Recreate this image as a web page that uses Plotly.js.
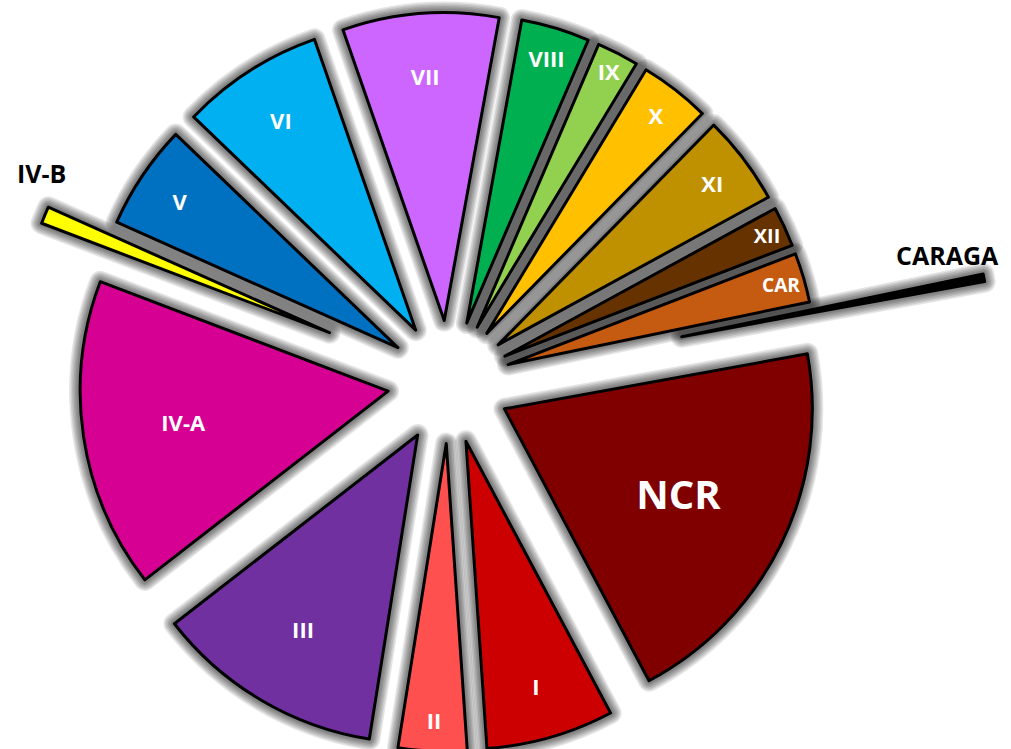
<!DOCTYPE html>
<html>
<head>
<meta charset="utf-8">
<script src="https://cdn.plot.ly/plotly-3.0.1.min.js"></script>
<style>
  html, body { margin: 0; padding: 0; width: 1011px; height: 749px; overflow: hidden; background: #fff; }
  #wrap { position: relative; width: 1011px; height: 749px; overflow: hidden; background: #fff; }
  #chart { position: absolute; left: -151px; top: -163px; }
</style>
</head>
<body>
<div id="wrap"><div id="chart"></div></div>
<script>
window.onload = function() {

// ---- Data ----
const regions = ['NCR', 'I', 'II', 'III', 'IV-A', 'IV-B', 'V', 'VI', 'VII',
                 'VIII', 'IX', 'X', 'XI', 'XII', 'CAR', 'CARAGA'];
const shares  = [20.1, 6.7, 3.6, 12.0, 16.3, 0.9, 5.5, 7.5, 8.2,
                 3.6, 2.2, 3.7, 4.7, 2.1, 2.6, 0.4];
const pulls   = [0.2, 0.2, 0.2, 0.2, 0.2, 0.42, 0.2, 0.2, 0.2,
                 0.2, 0.2, 0.2, 0.2, 0.2, 0.2, 0.77];
const colors  = ['#800000', '#CC0000', '#FF5050', '#7030A0', '#D60093', '#FFFF00',
                 '#0070C0', '#00B0F0', '#CC66FF', '#00B050', '#92D050', '#FFC000',
                 '#BF9000', '#663300', '#C55A11', '#000000'];
// slices too thin for an inside label, with where their label sits (paper coords)
const outerLabels = { 'IV-B': [0.1608, 0.6917], 'CARAGA': [0.9150, 0.6165] };

const textPos  = regions.map(r => outerLabels[r] ? 'none' : 'inside');
const textSize = regions.map(r => r === 'NCR' ? 40 : 22);

const base = {
    type: 'pie',
    labels: regions,
    values: shares,
    sort: false,
    direction: 'clockwise',
    rotation: 79.7,
    pull: pulls,
    hoverinfo: 'skip',
    showlegend: false
};

// soft shadow: the same pie drawn underneath with wide, faint outlines
const haloWidths = [22, 19, 16, 13, 10, 7];
const halo = haloWidths.map(w => Object.assign({}, base, {
    marker: { colors: regions.map(() => 'rgba(0,0,0,0)'), line: { color: 'rgba(0,0,0,0.1)', width: w } },
    textinfo: 'none'
}));

const main = Object.assign({}, base, {
    marker: { colors: colors, line: { color: '#000', width: 3 } },
    textinfo: 'label',
    textposition: textPos,
    insidetextorientation: 'horizontal',
    insidetextfont: { family: 'Open Sans, Lato, sans-serif', size: textSize, color: '#fff', weight: 700 },
    hoverinfo: 'label+value'
});

const annotations = Object.keys(outerLabels).map(name => ({
    text: name,
    xref: 'paper', yref: 'paper',
    x: outerLabels[name][0], y: outerLabels[name][1],
    xanchor: 'center', yanchor: 'middle',
    showarrow: false,
    font: { family: 'Open Sans, Lato, sans-serif', size: 25, color: '#000', weight: 700 }
}));

Plotly.newPlot('chart', halo.concat([main]), {
    width: 1200,
    height: 1090,
    margin: { l: 0, r: 0, t: 0, b: 0 },
    paper_bgcolor: '#fff',
    showlegend: false,
    annotations: annotations
}, { displayModeBar: false, staticPlot: true });

};
</script>
</body>
</html>
